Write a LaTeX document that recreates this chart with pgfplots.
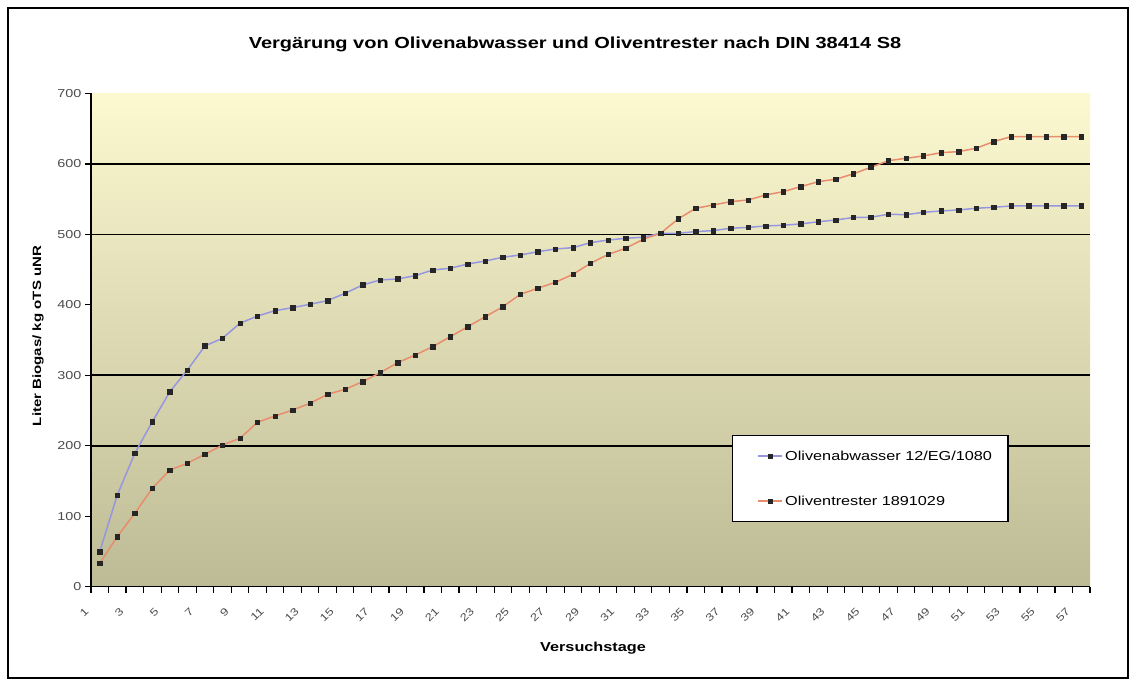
\documentclass[border=0pt]{standalone}
\usepackage{pgfplots}
\usepackage{pgfplotstable}
\pgfplotsset{compat=1.18}
\usepackage{fontspec}
\setmainfont{Liberation Sans}[FakeStretch=1.25]
\definecolor{bgtop}{HTML}{FCF8D0}
\definecolor{bgbot}{HTML}{BDBB95}
\definecolor{serA}{RGB}{150,150,225}
\definecolor{serB}{RGB}{232,140,110}
\pgfplotstableread{
x a b
1 49.7 33.2
2 130.2 71.0
3 189.4 104.2
4 234.2 139.7
5 276.8 165.6
6 307.6 175.2
7 341.7 187.9
8 352.6 201.1
9 373.9 210.6
10 384.2 233.4
11 391.8 242.3
12 396.0 250.8
13 400.9 260.3
14 406.0 273.0
15 416.5 280.2
16 428.3 291.0
17 435.3 303.8
18 436.8 318.0
19 441.5 328.9
20 449.5 340.7
21 452.0 354.9
22 458.0 369.0
23 462.3 383.3
24 467.6 397.4
25 470.8 415.0
26 475.5 423.6
27 479.3 432.1
28 481.2 443.4
29 488.3 459.0
30 492.0 471.5
31 494.5 480.3
32 496.0 493.0
33 501.6 501.6
34 501.6 522.0
35 504.0 537.0
36 505.4 541.8
37 508.7 546.5
38 510.0 548.9
39 512.0 556.0
40 513.0 560.7
41 514.9 567.8
42 518.0 574.9
43 520.5 578.3
44 524.0 586.0
45 524.3 595.3
46 528.6 604.7
47 528.0 608.0
48 531.4 611.4
49 533.3 616.0
50 534.7 617.5
51 537.1 622.3
52 538.5 631.7
53 540.4 638.8
54 540.4 638.8
55 540.4 638.8
56 540.4 638.8
57 540.4 638.8
}\datatable
\begin{document}
\begin{tikzpicture}[x=1pt,y=1pt]
\path[use as bounding box] (0,0) rectangle (1137,679);
\draw[line width=1.5pt] (8,1) rectangle (1128,671);
\begin{axis}[
  at={(91pt,92.3pt)}, anchor=south west,
  scale only axis, width=999pt, height=493.2pt,
  xmin=0.5, xmax=57.5, ymin=0, ymax=700,
  axis x line*=bottom, axis y line*=left,
  axis line style={black, line width=1.6pt},
  axis background/.style={top color=bgtop, bottom color=bgbot},
  tick align=outside,
  major tick length=6pt,
  tick style={black, line width=1.2pt},
  ytick={0,100,...,700},
  xtick={0.5,1.5,...,57.5},
  xticklabels={},
  extra x ticks={1,3,...,57},
  extra x tick labels={1,3,5,7,9,11,13,15,17,19,21,23,25,27,29,31,33,35,37,39,41,43,45,47,49,51,53,55,57},
  extra x tick style={major tick length=0pt},
  xticklabel style={rotate=45, anchor=east, xshift=-22pt, yshift=-7pt, font=\fontsize{10.5}{12}\selectfont},
  yticklabel style={font=\fontsize{11.5}{13}\selectfont},
  extra y ticks={200,300,500,600},
  extra y tick labels={},
  extra y tick style={grid=major, major grid style={black, line width=1.7pt}},
  /pgf/number format/assume math mode=true,
  tick label style={text=black!70},
  title={\bfseries Vergärung von Olivenabwasser und Oliventrester nach DIN 38414 S8},
  title style={at={(0.4845,1.088)}, anchor=center, font=\fontsize{16}{18}\selectfont},
  xlabel={\bfseries Versuchstage},
  xlabel style={at={(0.5025,-0.1243)}, anchor=center, font=\fontsize{13}{15}\selectfont},
  ylabel={\bfseries Liter Biogas/ kg oTS uNR},
  ylabel style={at={(-0.0531,0.5083)}, anchor=center, rotate=0, font=\fontsize{12}{14}\selectfont},
  legend image code/.code={\path (-11pt,0pt); \draw[mark repeat=2,mark phase=2,#1] plot coordinates {(0pt,0pt) (12pt,0pt) (24pt,0pt)};},
  legend style={at={(0.6416,0.3076)}, anchor=north west, draw=black, line width=1.5pt, fill=white,
    inner xsep=14pt, inner ysep=13pt, row sep=30pt, font=\fontsize{13}{15}\selectfont},
  legend cell align=left,
]
\addplot[serA, line width=1.5pt, mark=square*, mark size=2.2pt, mark options={black!85, line width=0.5pt}] table[x=x, y=a] {\datatable};
\addlegendentry{Olivenabwasser 12/EG/1080}
\addplot[serB, line width=1.5pt, mark=square*, mark size=2.2pt, mark options={black!85, line width=0.5pt}] table[x=x, y=b] {\datatable};
\addlegendentry{Oliventrester 1891029}
\end{axis}
\end{tikzpicture}
\end{document}
